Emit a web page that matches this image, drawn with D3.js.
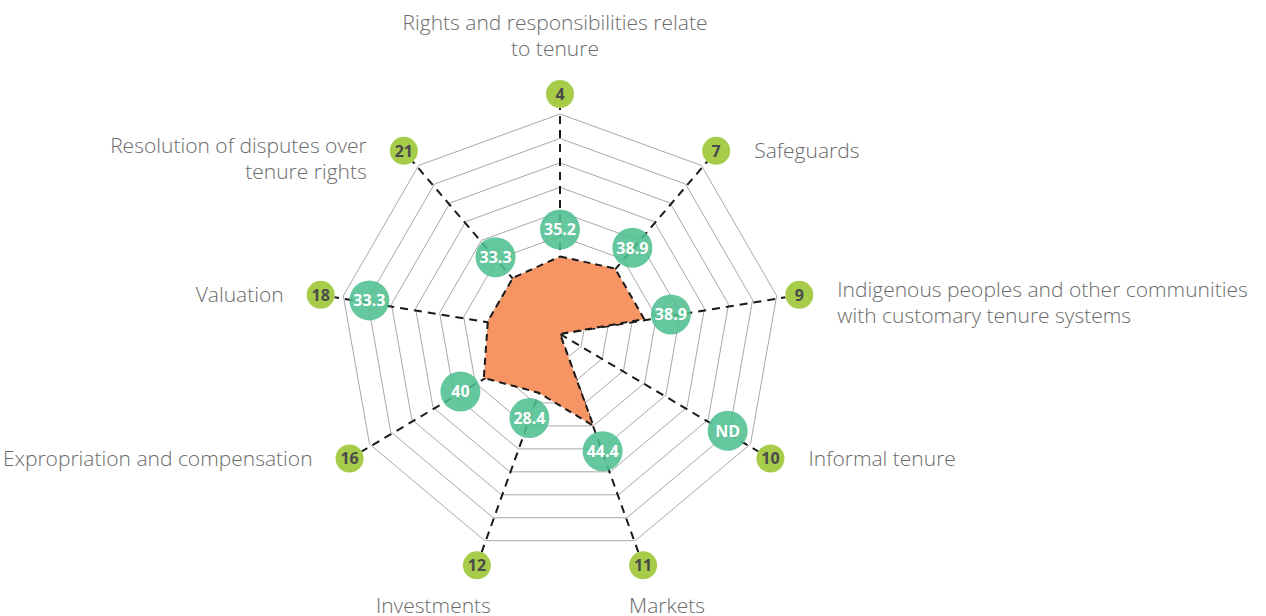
<!DOCTYPE html>
<html>
<head>
<meta charset="utf-8">
<script src="https://cdn.jsdelivr.net/npm/d3@7"></script>
<style>
  body { margin: 0; background: #fff; }
  svg { display: block; font-family: "Open Sans", sans-serif; }
</style>
</head>
<body>
<div id="chart"></div>
<script>
// axis names (each one can have several lines), guideline numbers, scores
var categories = [
  ["Rights and responsibilities relate", "to tenure"],
  ["Safeguards"],
  ["Indigenous peoples and other communities", "with customary tenure systems"],
  ["Informal tenure"],
  ["Markets"],
  ["Investments"],
  ["Expropriation and compensation"],
  ["Valuation"],
  ["Resolution of disputes over", "tenure rights"]
];
var guideline = [4, 7, 9, 10, 11, 12, 16, 18, 21];
var scores = [35.2, 38.9, 38.9, null, 44.4, 28.4, 40, 33.3, 33.3];   // null = ND
// where the score bubble sits on its axis (null = just past the score)
var labelAt = [null, null, null, 88, null, null, null, 88, null];

var width = 1266, height = 616;
var cx = 560, cy = 334, R = 220;
var n = categories.length;

var svg = d3.select("#chart")
    .append("svg")
    .attr("width", width)
    .attr("height", height);

var g = svg.append("g")
    .attr("transform", "translate(" + cx + "," + cy + ")");

var r = d3.scaleLinear().domain([0, 100]).range([0, R]);
var angle = d3.scaleLinear().domain([0, n]).range([0, 2 * Math.PI]);
var rings = d3.range(1, 10).map(function(i) { return i * 100 / 9; });

function pt(i, rad) {
  var a = angle(i);
  return [rad * Math.sin(a), -rad * Math.cos(a)];
}

var radial = d3.lineRadial()
    .angle(function(d, i) { return angle(i); })
    .curve(d3.curveLinearClosed);

// grid
g.selectAll("path.ring")
  .data(rings)
  .enter()
  .append("path")
    .attr("class", "ring")
    .attr("d", function(v) { return radial.radius(r(v))(d3.range(n)); })
    .attr("fill", "none")
    .attr("stroke", "#a8a8a8")
    .attr("stroke-width", 1);

var labelR = R + 23, labelDy = 3;

// axes
g.selectAll("line.axis")
  .data(d3.range(n))
  .enter()
  .append("line")
    .attr("class", "axis")
    .attr("x1", 0).attr("y1", 0)
    .attr("x2", function(i) { return pt(i, labelR - 14)[0]; })
    .attr("y2", function(i) { return pt(i, labelR - 14)[1] + labelDy; })
    .attr("stroke", "#1a1a1a")
    .attr("stroke-width", 2)
    .attr("stroke-dasharray", "8,6");

// score area, ND drawn at 0
g.append("path")
  .datum(scores)
  .attr("d", radial.radius(function(d) { return r(d || 0); }))
  .attr("fill", "#f79463")
  .attr("stroke", "#1a1a1a")
  .attr("stroke-width", 2)
  .attr("stroke-dasharray", "7,5")
  .attr("stroke-linejoin", "round");

// score bubbles
var bub = g.selectAll("g.bubble")
  .data(scores)
  .enter()
  .append("g")
    .attr("class", "bubble")
    .attr("transform", function(d, i) {
      var rad = labelAt[i] != null ? r(labelAt[i]) : r(d) + 27;
      return "translate(" + pt(i, rad) + ")";
    });

bub.append("circle")
  .attr("r", 20)
  .attr("fill", "#4fbf91")
  .attr("fill-opacity", 0.88);

bub.append("text")
  .attr("text-anchor", "middle")
  .attr("dy", "0.36em")
  .attr("fill", "#fff")
  .attr("font-weight", 700)
  .attr("font-size", 16)
  .text(function(d) { return d == null ? "ND" : d; });

// guideline number circles and names
var lab = g.selectAll("g.label")
  .data(d3.range(n))
  .enter()
  .append("g")
    .attr("class", "label")
    .attr("transform", function(i) {
      var p = pt(i, labelR);
      return "translate(" + p[0] + "," + (p[1] + labelDy) + ")";
    });

lab.append("circle")
  .attr("r", 14)
  .attr("fill", "#a6cc4a");

lab.append("text")
  .attr("text-anchor", "middle")
  .attr("dy", "0.36em")
  .attr("fill", "#4a4a4a")
  .attr("font-weight", 700)
  .attr("font-size", 16)
  .text(function(i) { return guideline[i]; });

lab.each(function(i) {
  var a = angle(i), s = Math.sin(a), c = Math.cos(a);
  var lines = categories[i];
  var t = d3.select(this).append("text")
      .attr("fill", "#6b6b6b")
      .attr("font-weight", 300)
      .attr("font-size", 21);
  var x, y0, anchor;
  if (c > 0.95) {              // top
    anchor = "middle"; x = -5; y0 = -38 - 26 * (lines.length - 1);
  } else if (c < -0.9) {       // bottom pair
    anchor = s > 0 ? "start" : "end"; x = s > 0 ? -14 : 14; y0 = 48;
  } else {
    anchor = s > 0 ? "start" : "end"; x = s > 0 ? 38 : -37;
    y0 = lines.length > 1 ? 2 : 7;
  }
  t.attr("text-anchor", anchor);
  t.selectAll("tspan")
    .data(lines)
    .enter()
    .append("tspan")
      .attr("x", x)
      .attr("y", function(d, k) { return y0 + k * 26; })
      .text(function(d) { return d; });
});
</script>
</body>
</html>
